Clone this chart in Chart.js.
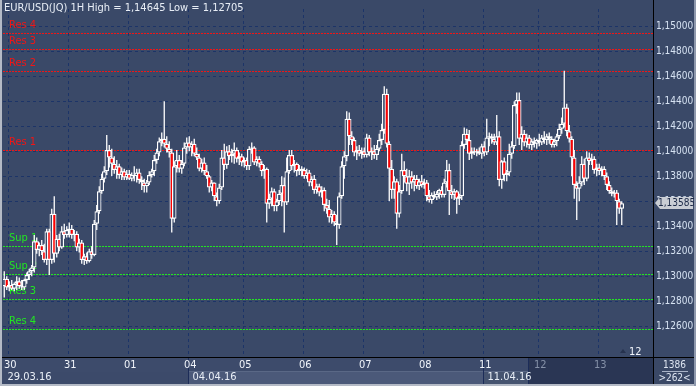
<!DOCTYPE html>
<html>
<head>
<meta charset="utf-8">
<title>EUR/USD(JQ) 1H</title>
<script src="https://cdn.jsdelivr.net/npm/chart.js@4.4.1/dist/chart.umd.min.js"></script>
<style>
    html, body { margin: 0; padding: 0; background: #3a4968; }
    canvas { display: block; }
</style>
</head>
<body>
<canvas id="eurusd-chart" width="696" height="386"></canvas>
<script>
// days on screen and how many hourly bars each one has
var days = ['29', '30', '31', '01', '04', '05', '06', '07', '08', '11', '12', '13'];
var barsPerDay = [2, 24, 24, 24, 22, 24, 24, 24, 24, 22, 24, 10];
var weeks = ['29.03.16', '04.04.16', '11.04.16'];
var weekFirstDay = [0, 4, 9];
var shiftBars = 12;
var dimFromBar = 210;

var title = 'EUR/USD(JQ) 1H High = 1,14645 Low = 1,12705';
var barTotal = '1386';
var barWindow = '>262<';

var open = [
    1.1292,1.1298,1.1291,1.1293,1.1290,1.1294,1.1296,1.1292,1.1291,1.1297,1.1301,1.1304,
    1.1307,1.1328,1.1321,1.1325,1.1320,1.1313,1.1336,1.1313,1.1350,1.1318,1.1330,1.1323,1.1336,1.1333,
    1.1337,1.1338,1.1333,1.1334,1.1323,1.1327,1.1313,1.1316,1.1312,1.1320,1.1317,1.1342,1.1352,1.1368,1.1378,1.1384,1.1401,1.1395,1.1390,1.1385,1.1388,1.1381,1.1384,1.1379,
    1.1382,1.1378,1.1381,1.1380,1.1383,1.1377,1.1375,1.1372,1.1375,1.1381,1.1384,1.1393,1.1399,1.1408,1.1410,1.1406,1.1402,1.1399,1.1346,1.1388,1.1393,1.1386,1.1390,1.1403,
    1.1407,1.1403,1.1406,1.1398,1.1395,1.1386,1.1391,1.1384,1.1380,1.1371,1.1375,1.1364,1.1360,1.1371,1.1395,1.1389,1.1400,1.1396,1.1398,1.1401,1.1394,1.1396,1.1391,1.1393,
    1.1388,1.1402,1.1403,1.1391,1.1394,1.1390,1.1384,1.1386,1.1358,1.1362,1.1368,1.1356,1.1360,1.1366,1.1373,1.1359,1.1384,1.1397,1.1388,1.1390,1.1384,1.1386,1.1385,1.1380,
    1.1383,1.1375,1.1378,1.1369,1.1372,1.1367,1.1369,1.1357,1.1354,1.1347,1.1350,1.1343,1.1341,1.1364,1.1388,1.1396,1.1426,1.1412,1.1409,1.1399,1.1401,1.1398,1.1400,1.1397,
    1.1411,1.1399,1.1400,1.1397,1.1402,1.1409,1.1417,1.1446,1.1406,1.1386,1.1369,1.1376,1.1350,1.1368,1.1385,1.1380,1.1374,1.1380,1.1375,1.1378,1.1372,1.1376,1.1373,1.1375,
    1.1364,1.1361,1.1365,1.1363,1.1366,1.1369,1.1365,1.1375,1.1385,1.1368,1.1365,1.1368,1.1362,1.1364,1.1405,1.1414,1.1409,1.1398,1.1400,1.1399,1.1400,1.1398,1.1404,1.1399,
    1.1411,1.1412,1.1410,1.1407,1.1412,1.1377,1.1392,1.1381,1.1383,1.1398,1.1404,1.1437,1.1441,1.1410,1.1414,1.1407,1.1411,1.1405,1.1408,1.1406,1.1409,1.1407,1.1411,1.1409,
    1.1412,1.1410,1.1405,1.1408,1.1412,1.1418,1.1422,1.1435,1.1416,1.1410,1.1395,1.1373,1.1370,1.1375,1.1390,1.1378,1.1395,1.1392,1.1394,1.1385,1.1387,1.1384,1.1386,1.1380,
    1.1373,1.1368,1.1366,1.1367,1.1360,1.1354
];
var high = [
    1.1304,1.1300,1.1296,1.1297,1.1295,1.1300,1.1299,1.1297,1.1298,1.1303,1.1306,1.1309,
    1.1333,1.1331,1.1327,1.1329,1.1326,1.1338,1.1338,1.1354,1.1364,1.1333,1.1334,1.1340,1.1342,1.1340,
    1.1343,1.1341,1.1337,1.1336,1.1330,1.1329,1.1318,1.1319,1.1322,1.1324,1.1345,1.1357,1.1372,1.1382,1.1388,1.1413,1.1405,1.1402,1.1396,1.1393,1.1390,1.1387,1.1386,1.1385,
    1.1385,1.1383,1.1388,1.1386,1.1386,1.1380,1.1378,1.1377,1.1384,1.1386,1.1397,1.1402,1.1411,1.1415,1.1440,1.1412,1.1408,1.1402,1.1392,1.1401,1.1397,1.1393,1.1407,1.1411,
    1.1412,1.1408,1.1410,1.1403,1.1398,1.1394,1.1395,1.1389,1.1381,1.1377,1.1375,1.1367,1.1374,1.1401,1.1406,1.1404,1.1405,1.1402,1.1407,1.1403,1.1399,1.1398,1.1395,1.1395,
    1.1404,1.1407,1.1404,1.1396,1.1396,1.1392,1.1389,1.1387,1.1366,1.1371,1.1370,1.1362,1.1369,1.1380,1.1379,1.1395,1.1401,1.1401,1.1393,1.1391,1.1389,1.1388,1.1387,1.1386,
    1.1385,1.1380,1.1381,1.1374,1.1374,1.1372,1.1371,1.1362,1.1361,1.1353,1.1352,1.1349,1.1367,1.1392,1.1400,1.1432,1.1431,1.1416,1.1411,1.1404,1.1405,1.1403,1.1403,1.1414,
    1.1413,1.1403,1.1405,1.1405,1.1414,1.1422,1.1452,1.1450,1.1408,1.1393,1.1380,1.1378,1.1373,1.1398,1.1392,1.1386,1.1385,1.1384,1.1381,1.1381,1.1378,1.1381,1.1378,1.1377,
    1.1369,1.1367,1.1368,1.1368,1.1370,1.1372,1.1378,1.1393,1.1390,1.1373,1.1370,1.1369,1.1366,1.1408,1.1419,1.1418,1.1417,1.1403,1.1403,1.1402,1.1403,1.1406,1.1408,1.1426,
    1.1415,1.1414,1.1414,1.1429,1.1416,1.1393,1.1395,1.1385,1.1406,1.1408,1.1440,1.1447,1.1447,1.1420,1.1417,1.1414,1.1413,1.1410,1.1411,1.1410,1.1414,1.1413,1.1416,1.1414,
    1.1415,1.1412,1.1410,1.1414,1.1422,1.1427,1.14645,1.1438,1.1421,1.1412,1.1401,1.1376,1.1380,1.1396,1.1394,1.1400,1.1399,1.1398,1.1396,1.1390,1.1390,1.1388,1.1388,1.1383,
    1.1376,1.1371,1.1369,1.1369,1.1362,1.1360
];
var low = [
    1.1283,1.1289,1.1288,1.1289,1.1288,1.1289,1.1290,1.1289,1.1289,1.1294,1.1297,1.1300,
    1.1303,1.1318,1.1316,1.1317,1.1311,1.1309,1.1301,1.1310,1.1311,1.1315,1.1320,1.1322,1.1330,1.1331,
    1.1331,1.1330,1.1328,1.1320,1.1319,1.1310,1.1309,1.1310,1.1311,1.1314,1.1316,1.1337,1.1350,1.1366,1.1375,1.1381,1.1387,1.1380,1.1382,1.1378,1.1378,1.1377,1.1377,1.1377,
    1.1377,1.1376,1.1376,1.1375,1.1374,1.1369,1.1367,1.1367,1.1373,1.1379,1.1380,1.1390,1.1396,1.1404,1.1403,1.1399,1.1395,1.1335,1.1343,1.1383,1.1383,1.1382,1.1388,1.1398,
    1.1400,1.1396,1.1396,1.1393,1.1384,1.1383,1.1381,1.1378,1.1367,1.1368,1.1360,1.1356,1.1358,1.1369,1.1385,1.1386,1.1393,1.1391,1.1390,1.1391,1.1389,1.1388,1.1387,1.1385,
    1.1385,1.1398,1.1389,1.1388,1.1387,1.1380,1.1378,1.1343,1.1354,1.1356,1.1352,1.1352,1.1357,1.1356,1.1335,1.1357,1.1382,1.1385,1.1383,1.1380,1.1381,1.1380,1.1378,1.1378,
    1.1372,1.1372,1.1366,1.1366,1.1364,1.1363,1.1352,1.1350,1.1343,1.1342,1.1340,1.1325,1.1338,1.1362,1.1378,1.1392,1.1405,1.1405,1.1396,1.1393,1.1396,1.1394,1.1395,1.1395,
    1.1396,1.1393,1.1394,1.1393,1.1400,1.1405,1.1414,1.1403,1.1360,1.1362,1.1362,1.1338,1.1347,1.1366,1.1375,1.1368,1.1365,1.1370,1.1368,1.1370,1.1369,1.1371,1.1370,1.1360,
    1.1359,1.1358,1.1362,1.1361,1.1362,1.1363,1.1363,1.1371,1.1349,1.1362,1.1361,1.1350,1.1357,1.1361,1.1402,1.1405,1.1393,1.1394,1.1397,1.1396,1.1397,1.1394,1.1396,1.1397,
    1.1404,1.1406,1.1405,1.1405,1.1372,1.1370,1.1376,1.1376,1.1380,1.1394,1.1402,1.1430,1.1405,1.1401,1.1404,1.1403,1.1402,1.1401,1.1403,1.1402,1.1404,1.1405,1.1406,1.1405,
    1.1406,1.1403,1.1403,1.1404,1.1410,1.1414,1.1419,1.1412,1.1407,1.1380,1.1362,1.1345,1.1360,1.1372,1.1373,1.1376,1.1389,1.1389,1.1382,1.1380,1.1381,1.1380,1.1377,1.1369,
    1.1366,1.1364,1.1363,1.1341,1.1350,1.1341
];
var close = [
    1.1298,1.1291,1.1293,1.1290,1.1294,1.1296,1.1292,1.1291,1.1297,1.1301,1.1304,1.1307,
    1.1328,1.1321,1.1325,1.1320,1.1313,1.1336,1.1313,1.1350,1.1318,1.1330,1.1323,1.1336,1.1333,1.1337,
    1.1338,1.1333,1.1334,1.1323,1.1327,1.1313,1.1316,1.1312,1.1320,1.1317,1.1342,1.1352,1.1368,1.1378,1.1384,1.1401,1.1395,1.1390,1.1385,1.1388,1.1381,1.1384,1.1379,1.1382,
    1.1378,1.1381,1.1380,1.1383,1.1377,1.1375,1.1372,1.1375,1.1381,1.1384,1.1393,1.1399,1.1408,1.1410,1.1406,1.1402,1.1399,1.1346,1.1388,1.1393,1.1386,1.1390,1.1403,1.1407,
    1.1403,1.1406,1.1398,1.1395,1.1386,1.1391,1.1384,1.1380,1.1371,1.1375,1.1364,1.1360,1.1371,1.1395,1.1389,1.1400,1.1396,1.1398,1.1401,1.1394,1.1396,1.1391,1.1393,1.1388,
    1.1402,1.1403,1.1391,1.1394,1.1390,1.1384,1.1386,1.1358,1.1362,1.1368,1.1356,1.1360,1.1366,1.1373,1.1359,1.1384,1.1397,1.1388,1.1390,1.1384,1.1386,1.1385,1.1380,1.1383,
    1.1375,1.1378,1.1369,1.1372,1.1367,1.1369,1.1357,1.1354,1.1347,1.1350,1.1343,1.1341,1.1364,1.1388,1.1396,1.1426,1.1412,1.1409,1.1399,1.1401,1.1398,1.1400,1.1397,1.1411,
    1.1399,1.1400,1.1397,1.1402,1.1409,1.1417,1.1446,1.1406,1.1386,1.1369,1.1376,1.1350,1.1368,1.1385,1.1380,1.1374,1.1380,1.1375,1.1378,1.1372,1.1376,1.1373,1.1375,1.1364,
    1.1361,1.1365,1.1363,1.1366,1.1369,1.1365,1.1375,1.1385,1.1368,1.1365,1.1368,1.1362,1.1364,1.1405,1.1414,1.1409,1.1398,1.1400,1.1399,1.1400,1.1398,1.1404,1.1399,1.1411,
    1.1412,1.1410,1.1407,1.1412,1.1377,1.1392,1.1381,1.1383,1.1398,1.1404,1.1437,1.1441,1.1410,1.1414,1.1407,1.1411,1.1405,1.1408,1.1406,1.1409,1.1407,1.1411,1.1409,1.1412,
    1.1410,1.1405,1.1408,1.1412,1.1418,1.1422,1.1435,1.1416,1.1410,1.1395,1.1373,1.1370,1.1375,1.1390,1.1378,1.1395,1.1392,1.1394,1.1385,1.1387,1.1384,1.1386,1.1380,1.1373,
    1.1368,1.1366,1.1367,1.1360,1.1354,1.13585
];

var resNames = ['Res 4', 'Res 3', 'Res 2', 'Res 1'];
var resValues = [1.14947, 1.14821, 1.14645, 1.14008];
var supNames = ['Sup 1', 'Sup 2', 'Res 3', 'Res 4'];
var supValues = [1.13241, 1.13021, 1.12816, 1.12581];

var yMin = 1.12355, yMax = 1.15138, yStep = 0.002;

var plotBg = '#3a4968';
var gridColor = '#1c3468';
var fontFamily = "'Liberation Sans Narrow', 'DejaVu Sans Condensed', 'Liberation Sans', sans-serif";

function fmt(v) {
    return v.toFixed(5).replace('.', ',');
}

// one category per hourly slot, plus the empty shift at the right
var labels = [];
var dayStart = [];
days.forEach(function (d, i) {
    dayStart.push(labels.length);
    for (var h = 0; h < barsPerDay[i]; h++) labels.push(d);
});
for (var s = 0; s < shiftBars; s++) labels.push('');

var bodies = [], wicks = [];
close.forEach(function (c, i) {
    bodies.push([open[i], c]);
    wicks.push([low[i], high[i]]);
});

Chart.defaults.font.family = fontFamily;
Chart.defaults.font.size = 11;

var decor = {
    id: 'decor',
    beforeDraw: function (chart) {
        var c = chart.ctx;
        c.save();
        c.fillStyle = plotBg;
        c.fillRect(0, 0, chart.width, chart.height);
        c.restore();
    },
    beforeDatasetsDraw: function (chart) {
        var c = chart.ctx, a = chart.chartArea, y = chart.scales.y;
        c.save();
        c.font = '11px ' + fontFamily;
        c.textBaseline = 'middle';
        // dotted level lines, pixel by pixel so they stay sharp
        var level = function (name, v, col) {
            var py = Math.round(y.getPixelForValue(v));
            c.fillStyle = col;
            for (var px = Math.round(a.left); px < a.right; px += 3) {
                c.fillRect(px, py, 2, 1);
            }
            c.fillText(name, a.left + 6, py - 7.5);
        };
        resNames.forEach(function (n, i) { level(n, resValues[i], '#f01616'); });
        supNames.forEach(function (n, i) { level(n, supValues[i], '#22e622'); });
        c.restore();
    },
    afterDraw: function (chart) {
        var c = chart.ctx, a = chart.chartArea, x = chart.scales.x, y = chart.scales.y;
        var W = chart.width, H = chart.height;
        var slotW = x.getPixelForValue(1) - x.getPixelForValue(0);
        var slotLeft = function (i) { return x.getPixelForValue(i) - slotW / 2; };
        var dimX = Math.round(slotLeft(dimFromBar));
        var row1 = a.bottom + 1, row2 = a.bottom + 15;

        c.save();
        c.font = '11px ' + fontFamily;
        c.textBaseline = 'middle';

        // time panel
        c.fillStyle = '#3d4b6b';
        c.fillRect(0, a.bottom, a.right, H - a.bottom);
        var wx = weekFirstDay.map(function (d) { return Math.round(slotLeft(dayStart[d])); });
        var segCol = ['#3c4a6a', '#4b5979', '#45536f'];
        wx.forEach(function (sx, k) {
            var ex = k + 1 < wx.length ? wx[k + 1] : dimX;
            c.fillStyle = segCol[k];
            c.fillRect(sx, row2, ex - sx, H - row2);
            if (k > 0) {
                c.fillStyle = '#5a6886';
                c.fillRect(sx, row2 - 1, ex - sx, 1);
                c.fillStyle = '#1c2c58';
                c.fillRect(sx, row1, 1, H - row1);
            }
        });
        c.fillStyle = '#2a3654';
        c.fillRect(dimX, row1, a.right - dimX, H - row1);
        c.fillStyle = '#1c2c58';
        c.fillRect(dimX, row1, 1, H - row1);

        days.forEach(function (d, i) {
            if (dayStart[i] === 0) return;
            var lx = slotLeft(dayStart[i]) - 4;
            c.fillStyle = lx >= dimX ? '#8591a8' : '#f0f4fa';
            c.fillText(d, lx, row1 + 7.5);
        });
        weeks.forEach(function (w, k) {
            c.fillStyle = '#e8eef6';
            c.fillText(w, slotLeft(dayStart[weekFirstDay[k]]) + 4.5, row2 + 5.5);
        });

        // axis box at the bottom right
        c.fillStyle = '#3a4866';
        c.fillRect(a.right, a.bottom, W - a.right, H - a.bottom);
        c.textAlign = 'center';
        c.fillStyle = '#dde4f0';
        c.font = '10px ' + fontFamily;
        c.fillText(barTotal, (a.right + W) / 2, a.bottom + 8);
        c.fillText(barWindow, (a.right + W) / 2, a.bottom + 21);
        c.fillStyle = '#a8b2c6';
        c.fillRect(a.right + 9, a.bottom + 14, 26, 1);
        c.textAlign = 'left';
        c.font = '11px ' + fontFamily;

        // separators
        c.fillStyle = '#000000';
        c.fillRect(0, a.bottom, W, 1);
        c.fillRect(a.right, 0, 1, H);

        // shift marker
        var last = close.length - 1;
        var mx = slotLeft(last + 1);
        c.fillStyle = '#26324e';
        c.beginPath();
        c.moveTo(mx - 3, a.bottom - 4);
        c.lineTo(mx + 3, a.bottom - 4);
        c.lineTo(mx, a.bottom - 8);
        c.closePath();
        c.fill();
        c.fillStyle = '#f0f4fa';
        c.fillText(String(shiftBars), mx + 6, a.bottom - 5);

        // last price tag
        var py = Math.round(y.getPixelForValue(close[last]));
        c.fillStyle = '#c9cdd4';
        c.beginPath();
        c.moveTo(a.right + 2, py);
        c.lineTo(a.right + 7, py - 6);
        c.lineTo(W - 3, py - 6);
        c.lineTo(W - 3, py + 6);
        c.lineTo(a.right + 7, py + 6);
        c.closePath();
        c.fill();
        c.fillStyle = '#1c2a48';
        c.font = '10px ' + fontFamily;
        c.fillText(fmt(close[last]), a.right + 5, py + 0.5);
        c.font = '11px ' + fontFamily;

        // title
        c.fillStyle = '#e8eef6';
        c.fillText(title, 4, 8.5);

        // frame
        c.fillStyle = '#b4bac6';
        c.fillRect(0, 0, 2, H);
        c.fillRect(0, H - 2, W, 2);
        c.fillStyle = '#8e98ac';
        c.fillRect(W - 2, 0, 2, H);
        c.restore();
    }
};

new Chart(document.getElementById('eurusd-chart').getContext('2d'), {
    type: 'bar',
    data: {
        labels: labels,
        datasets: [
            {
                label: 'Body',
                data: bodies,
                order: 1,
                grouped: false,
                barThickness: 4.5,
                minBarLength: 1,
                inflateAmount: 0,
                borderWidth: 1.25,
                borderSkipped: false,
                borderColor: '#ffffff',
                backgroundColor: function (ctx) {
                    var i = ctx.dataIndex;
                    return close[i] < open[i] ? '#ff0000' : plotBg;
                }
            },
            {
                label: 'Wick',
                data: wicks,
                order: 2,
                grouped: false,
                barThickness: 1.3,
                inflateAmount: 0,
                borderWidth: 0,
                backgroundColor: '#ffffff'
            }
        ]
    },
    options: {
        responsive: false,
        animation: false,
        events: [],
        layout: {
            padding: { left: 3, top: 3, right: 0, bottom: 29 }
        },
        plugins: {
            legend: { display: false },
            tooltip: { enabled: false }
        },
        scales: {
            x: {
                offset: true,
                ticks: { display: false },
                grid: {
                    offset: true,
                    drawTicks: false,
                    color: function (ctx) {
                        return dayStart.indexOf(ctx.index) > 0 ? gridColor : 'rgba(0,0,0,0)';
                    }
                },
                border: { display: false, dash: [3, 3] },
                afterFit: function (s) { s.height = 0; }
            },
            y: {
                position: 'right',
                min: yMin,
                max: yMax,
                ticks: {
                    stepSize: yStep,
                    includeBounds: false,
                    padding: 3,
                    color: '#d6e2f2',
                    font: { size: 10 },
                    callback: function (v) {
                        return v < 1.125 ? '' : fmt(v);
                    }
                },
                grid: {
                    drawTicks: false,
                    color: function (ctx) {
                        return ctx.tick && ctx.tick.value < 1.125 ? 'rgba(0,0,0,0)' : gridColor;
                    }
                },
                border: { display: false, dash: [3, 3] },
                afterFit: function (s) { s.width = 43; }
            }
        }
    },
    plugins: [decor]
});
</script>
</body>
</html>
